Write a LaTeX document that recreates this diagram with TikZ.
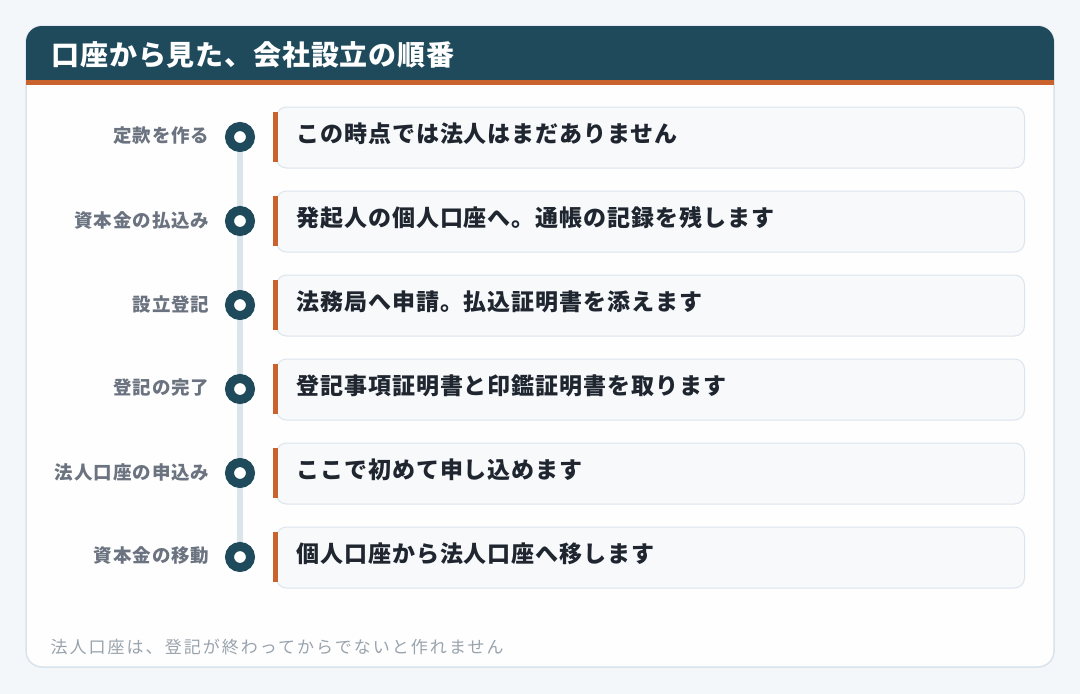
\documentclass[tikz,border=0pt]{standalone}
\usepackage{fontspec}
\setmainfont{Noto Sans CJK JP}
\newfontfamily\titlefont[LetterSpace=3]{Noto Sans CJK JP}
\newfontfamily\stepfont[LetterSpace=4]{Noto Sans CJK JP}
\newfontfamily\labelfont[LetterSpace=5]{Noto Sans CJK JP}
\newfontfamily\notefont[LetterSpace=12]{Noto Sans CJK JP}
\definecolor{pagebg}{HTML}{F4F7F9}
\definecolor{cardbg}{HTML}{FDFEFD}
\definecolor{cardline}{HTML}{D9E3EC}
\definecolor{headbg}{HTML}{1E4A5C}
\definecolor{accent}{HTML}{C9622C}
\definecolor{labelgray}{HTML}{6B7380}
\definecolor{boxtext}{HTML}{1F2630}
\definecolor{boxbg}{HTML}{F7F9FB}
\definecolor{boxline}{HTML}{DCE5EE}
\definecolor{railgray}{HTML}{DDE5EC}
\definecolor{notegray}{HTML}{9AA3AD}
\tikzset{
  steplabel/.style={anchor=east, text=labelgray, font=\labelfont\fontsize{18.5}{21}\selectfont\bfseries},
  stepdot/.style={circle, minimum size=21pt, inner sep=0pt, draw=headbg, line width=9pt, fill=white},
  stepbox/.style={rectangle, rounded corners=10pt, draw=boxline, line width=1pt, fill=boxbg,
    minimum width=748pt, minimum height=61pt, anchor=west},
  steptext/.style={anchor=west, text=boxtext, font=\stepfont\fontsize{23}{27}\selectfont\bfseries},
}
\begin{document}
\begin{tikzpicture}[x=1pt, y=-1pt]
\useasboundingbox (0,0) rectangle (1080,694);
\fill[pagebg] (0,0) rectangle (1080,694);

% Card
\fill[cardbg, draw=cardline, line width=1.5pt, rounded corners=16pt] (26,26) rectangle (1054,667);
\begin{scope}
\clip[rounded corners=16pt] (26,26) rectangle (1054,667);
\fill[headbg] (26,26) rectangle (1054,80);
\fill[accent] (26,80) rectangle (1054,85);
\end{scope}
\node[anchor=west, text=white, font=\titlefont\fontsize{28}{32}\selectfont\bfseries] (title) at (48,55) {口座から見た、会社設立の順番};

% Rail
\foreach \i in {1,...,6}
  \coordinate (d\i) at (240,{137+84*(\i-1)});
\draw[railgray, line width=6pt] (d1) -- (d6);

% Steps
\foreach \i/\lab/\txt in {
  1/定款を作る/この時点では法人はまだありません,
  2/資本金の払込み/発起人の個人口座へ。通帳の記録を残します,
  3/設立登記/法務局へ申請。払込証明書を添えます,
  4/登記の完了/登記事項証明書と印鑑証明書を取ります,
  5/法人口座の申込み/ここで初めて申し込めます,
  6/資本金の移動/個人口座から法人口座へ移します}
{
  \node[stepdot] (c\i) at (d\i) {};
  \node[steplabel] (l\i) at (213,{136+84*(\i-1)}) {\lab};
  \node[stepbox] (b\i) at (276,{137.5+84*(\i-1)}) {};
  \fill[accent] (273,{112+84*(\i-1)}) rectangle (278,{162+84*(\i-1)});
  \node[steptext] (t\i) at (293,{134+84*(\i-1)}) {\txt};
}

% Note
\node[anchor=west, text=notegray, font=\notefont\fontsize{17}{20}\selectfont] (note) at (47,647) {法人口座は、登記が終わってからでないと作れません};
\end{tikzpicture}
\end{document}
